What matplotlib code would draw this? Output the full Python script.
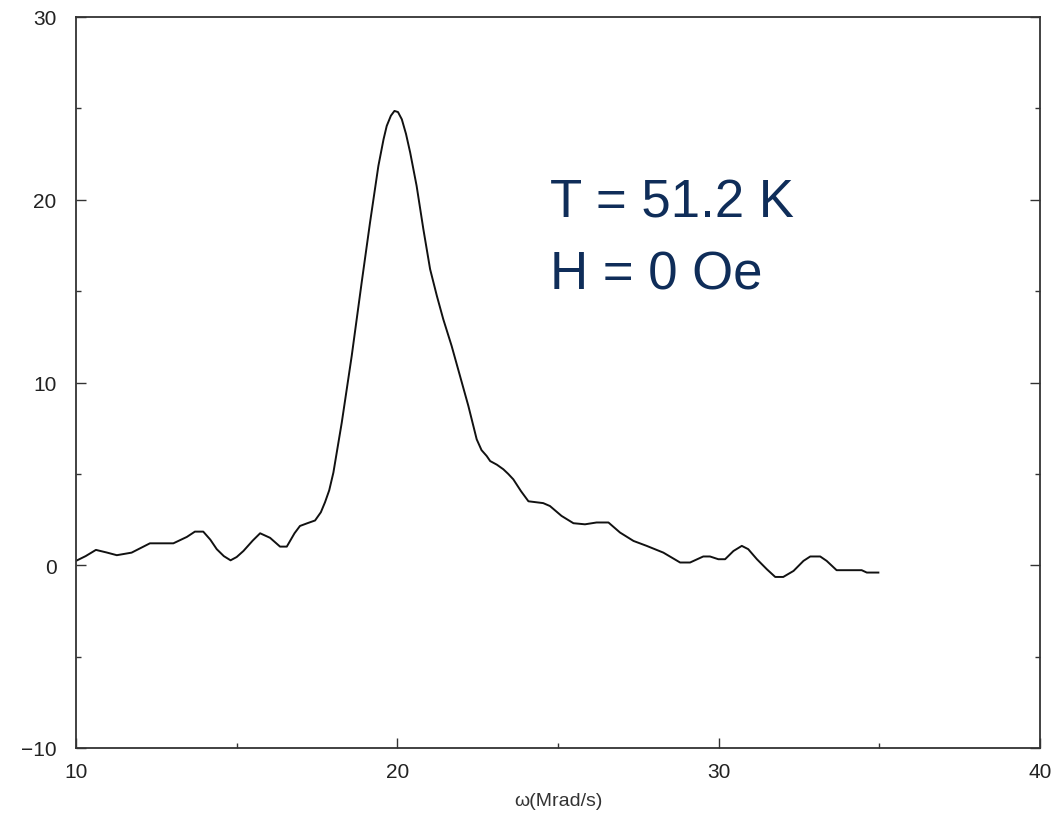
import matplotlib
matplotlib.use("Agg")
import matplotlib.pyplot as plt
from matplotlib.ticker import MultipleLocator

omega = [10.0, 10.3, 10.62, 10.95, 11.27, 11.73, 12.3, 13.03, 13.45, 13.7, 13.96, 14.18, 14.38,
         14.6, 14.81, 15.0, 15.21, 15.5, 15.73, 16.04, 16.35, 16.56, 16.8, 16.97, 17.2, 17.44,
         17.62, 17.75, 17.88, 18.01, 18.27, 18.58, 18.89, 19.15, 19.41, 19.57, 19.67, 19.8,
         19.91, 20.02, 20.14, 20.27, 20.4, 20.6, 20.81, 21.02, 21.23, 21.43, 21.69, 21.95,
         22.21, 22.47, 22.62, 22.78, 22.89, 23.1, 23.3, 23.45, 23.61, 23.85, 24.08, 24.54,
         24.75, 25.11, 25.48, 25.84, 26.2, 26.57, 26.93, 27.35, 27.76, 28.28, 28.8, 29.11,
         29.52, 29.73, 29.99, 30.2, 30.46, 30.72, 30.92, 31.19, 31.5, 31.76, 32.01, 32.33,
         32.64, 32.85, 33.16, 33.36, 33.67, 34.45, 34.61, 34.97]
signal = [0.24, 0.5, 0.84, 0.7, 0.55, 0.69, 1.2, 1.2, 1.55, 1.84, 1.84, 1.4, 0.88,
          0.5, 0.27, 0.45, 0.78, 1.35, 1.75, 1.5, 1.02, 1.02, 1.75, 2.15, 2.3, 2.45,
          2.9, 3.45, 4.1, 5.07, 7.8, 11.45, 15.47, 18.75, 21.85, 23.3, 24.04, 24.6,
          24.86, 24.8, 24.4, 23.6, 22.58, 20.76, 18.39, 16.2, 14.74, 13.46, 12.0, 10.36,
          8.72, 6.89, 6.3, 5.98, 5.7, 5.5, 5.25, 5.0, 4.7, 4.05, 3.5, 3.4,
          3.24, 2.7, 2.3, 2.24, 2.34, 2.34, 1.79, 1.33, 1.06, 0.69, 0.15, 0.15,
          0.48, 0.48, 0.33, 0.33, 0.78, 1.06, 0.88, 0.33, -0.22, -0.64, -0.64, -0.31,
          0.24, 0.48, 0.48, 0.24, -0.27, -0.27, -0.4, -0.4]

xticks = [10, 20, 30, 40]
yticks = [-10, 0, 10, 20, 30]
xlabel = "ω(Mrad/s)"
annot = ["T = 51.2 K", "H = 0 Oe"]

plt.rcParams['font.family'] = ['Liberation Sans', 'DejaVu Sans']

fig = plt.figure(figsize=(10.56, 8.2), dpi=100)
ax = fig.add_axes([76/1056, 71/820, 964/1056, 731/820])
ax.plot(omega, signal, color='#111111', lw=1.4)
ax.set_xlim(10, 40)
ax.set_ylim(-10, 30)
ax.set_xticks(xticks)
ax.set_yticks(yticks)
ax.xaxis.set_minor_locator(MultipleLocator(5))
ax.yaxis.set_minor_locator(MultipleLocator(5))
ax.tick_params(which='both', direction='in', top=False, right=True,
               colors='#333333', width=1.0)
ax.tick_params(which='major', length=7.2, labelsize=15, labelcolor='#222222')
ax.tick_params(which='minor', length=3.6)
ax.tick_params(axis='y', pad=14)
ax.tick_params(axis='x', pad=10)
for s in ax.spines.values():
    s.set_color('#333333')
    s.set_linewidth(1.3)
ax.set_xlabel(xlabel, fontsize=14, color='#333333', labelpad=8)

ax.text(550/1056, 1 - 217/820, annot[0], transform=fig.transFigure,
        fontsize=38, color='#0f2d59', va='baseline', ha='left')
ax.text(550/1056, 1 - 290/820, annot[1], transform=fig.transFigure,
        fontsize=38, color='#0f2d59', va='baseline', ha='left')

fig.savefig("out.png", dpi=100)
